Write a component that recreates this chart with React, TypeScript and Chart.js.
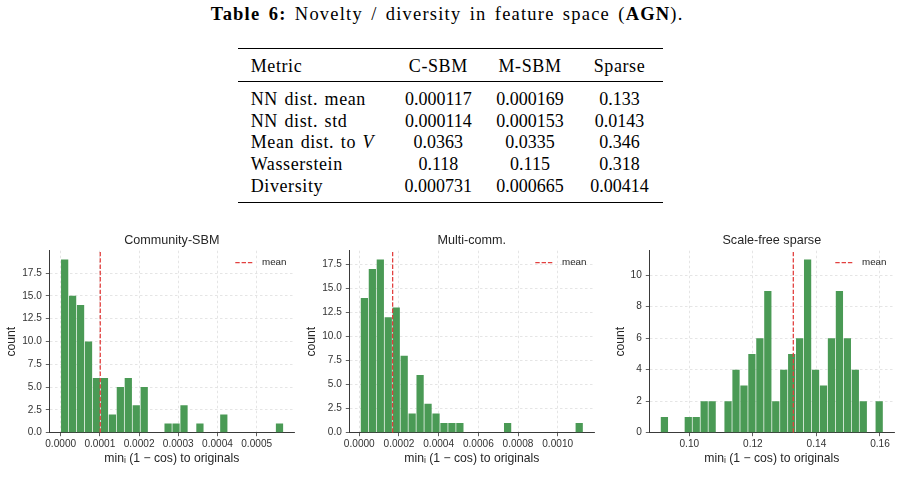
import React, { useEffect, useRef } from "react";
import { Chart, registerables } from "chart.js";

Chart.register(...registerables);
Chart.defaults.font.family = '"Liberation Sans", Arial, sans-serif';

// ---------- Table data ----------
const TABLE_TITLE_LABEL = "Table 6:";
const TABLE_TITLE_TEXT = " Novelty / diversity in feature space (";
const TABLE_TITLE_BOLD = "AGN";
const TABLE_TITLE_END = ").";
const TABLE_HEADERS = ["Metric", "C-SBM", "M-SBM", "Sparse"];
const ROW_LABELS = ["NN dist. mean", "NN dist. std", "Mean dist. to ", "Wasserstein", "Diversity"];
const ROW_LABEL_ITALIC = ["", "", "V", "", ""];
const CSBM_VALUES = ["0.000117", "0.000114", "0.0363", "0.118", "0.000731"];
const MSBM_VALUES = ["0.000169", "0.000153", "0.0335", "0.115", "0.000665"];
const SPARSE_VALUES = ["0.133", "0.0143", "0.346", "0.318", "0.00414"];

// ---------- Histogram data ----------
const X_LABEL = "minᵢ (1 − cos) to originals";
const Y_LABEL = "count";
const MEAN_LABEL = "mean";

const CSBM_TITLE = "Community-SBM";
const CSBM_BIN_START = 0.0;
const CSBM_BIN_WIDTH = 0.0000203;
const CSBM_COUNTS = [19, 15, 14, 10, 6, 6, 2, 5, 6, 3, 5, 0, 0, 1, 1, 3, 0, 1, 0, 0, 2, 0, 0, 0, 0, 0, 0, 1];
const CSBM_MEAN = 0.000101;
const CSBM_X_RANGE = [-0.000029, 0.000596];
const CSBM_Y_MAX = 19.95;
const CSBM_X_TICKS = [0, 0.0001, 0.0002, 0.0003, 0.0004, 0.0005];
const CSBM_X_TICK_LABELS = ["0.0000", "0.0001", "0.0002", "0.0003", "0.0004", "0.0005"];
const CSBM_Y_TICKS = [0, 2.5, 5, 7.5, 10, 12.5, 15, 17.5];
const CSBM_Y_TICK_LABELS = ["0.0", "2.5", "5.0", "7.5", "10.0", "12.5", "15.0", "17.5"];

const MSBM_TITLE = "Multi-comm.";
const MSBM_BIN_START = 0.0000057;
const MSBM_BIN_WIDTH = 0.0000401;
const MSBM_COUNTS = [14, 17, 18, 12, 13, 8, 2, 6, 3, 2, 1, 1, 1, 0, 0, 0, 0, 0, 1, 0, 0, 0, 0, 0, 0, 0, 0, 1];
const MSBM_MEAN = 0.000168;
const MSBM_X_RANGE = [-0.0000504, 0.0011845];
const MSBM_Y_MAX = 18.9;
const MSBM_X_TICKS = [0, 0.0002, 0.0004, 0.0006, 0.0008, 0.001];
const MSBM_X_TICK_LABELS = ["0.0000", "0.0002", "0.0004", "0.0006", "0.0008", "0.0010"];
const MSBM_Y_TICKS = [0, 2.5, 5, 7.5, 10, 12.5, 15, 17.5];
const MSBM_Y_TICK_LABELS = ["0.0", "2.5", "5.0", "7.5", "10.0", "12.5", "15.0", "17.5"];

const SPARSE_TITLE = "Scale-free sparse";
const SPARSE_BIN_START = 0.090917;
const SPARSE_BIN_WIDTH = 0.0025031;
const SPARSE_COUNTS = [1, 0, 0, 1, 1, 2, 2, 0, 2, 4, 3, 5, 6, 9, 2, 4, 5, 6, 11, 4, 3, 6, 9, 6, 4, 2, 0, 2];
const SPARSE_MEAN = 0.13273;
const SPARSE_X_RANGE = [0.087413, 0.164507];
const SPARSE_Y_MAX = 11.55;
const SPARSE_X_TICKS = [0.1, 0.12, 0.14, 0.16];
const SPARSE_X_TICK_LABELS = ["0.10", "0.12", "0.14", "0.16"];
const SPARSE_Y_TICKS = [0, 2, 4, 6, 8, 10];
const SPARSE_Y_TICK_LABELS = ["0", "2", "4", "6", "8", "10"];

// ---------- Styles ----------
const BAR_COLOR = "#4a9a55";
const MEAN_COLOR = "#e2403f";
const TEXT_COLOR = "#262626";
const TICK_TEXT = "#333333";
const SPINE_COLOR = "#3a3a3a";
const GRID_COLOR = "#dedede";
const SANS = '"Liberation Sans", Arial, sans-serif';

type HistParams = {
  title: string;
  binStart: number;
  binWidth: number;
  counts: number[];
  mean: number;
  xRange: number[];
  yMax: number;
  xTicks: number[];
  xTickLabels: string[];
  yTicks: number[];
  yTickLabels: string[];
  yTitlePad: number;
};

const HISTS: HistParams[] = [
  { title: CSBM_TITLE, binStart: CSBM_BIN_START, binWidth: CSBM_BIN_WIDTH, counts: CSBM_COUNTS, mean: CSBM_MEAN, xRange: CSBM_X_RANGE, yMax: CSBM_Y_MAX, xTicks: CSBM_X_TICKS, xTickLabels: CSBM_X_TICK_LABELS, yTicks: CSBM_Y_TICKS, yTickLabels: CSBM_Y_TICK_LABELS, yTitlePad: 4.4 },
  { title: MSBM_TITLE, binStart: MSBM_BIN_START, binWidth: MSBM_BIN_WIDTH, counts: MSBM_COUNTS, mean: MSBM_MEAN, xRange: MSBM_X_RANGE, yMax: MSBM_Y_MAX, xTicks: MSBM_X_TICKS, xTickLabels: MSBM_X_TICK_LABELS, yTicks: MSBM_Y_TICKS, yTickLabels: MSBM_Y_TICK_LABELS, yTitlePad: 4.4 },
  { title: SPARSE_TITLE, binStart: SPARSE_BIN_START, binWidth: SPARSE_BIN_WIDTH, counts: SPARSE_COUNTS, mean: SPARSE_MEAN, xRange: SPARSE_X_RANGE, yMax: SPARSE_Y_MAX, xTicks: SPARSE_X_TICKS, xTickLabels: SPARSE_X_TICK_LABELS, yTicks: SPARSE_Y_TICKS, yTickLabels: SPARSE_Y_TICK_LABELS, yTitlePad: 13.4 },
];

const meanLegendPlugin = {
  id: "meanLegend",
  afterDatasetsDraw(chart: any) {
    const { ctx, chartArea } = chart;
    const ds = chart.data.datasets[0];
    const y = chartArea.top + 12;
    ctx.save();
    ctx.strokeStyle = ds.borderColor;
    ctx.lineWidth = 1.3;
    ctx.setLineDash([4.4, 1.9]);
    ctx.beginPath();
    ctx.moveTo(chartArea.right - 59, y);
    ctx.lineTo(chartArea.right - 40.7, y);
    ctx.stroke();
    ctx.setLineDash([]);
    ctx.fillStyle = TEXT_COLOR;
    ctx.font = `9.8px ${SANS}`;
    ctx.textBaseline = "middle";
    ctx.textAlign = "left";
    ctx.fillText(ds.label, chartArea.right - 32.3, y);
    ctx.restore();
  },
};

function makeConfig(p: HistParams): any {
  const barData = p.counts.map((c, i) => ({ x: p.binStart + p.binWidth * (i + 0.5), y: c }));
  return {
    type: "bar",
    data: {
      datasets: [
        {
          type: "line",
          label: MEAN_LABEL,
          data: [
            { x: p.mean, y: 0 },
            { x: p.mean, y: p.yMax },
          ],
          borderColor: MEAN_COLOR,
          borderWidth: 1.3,
          borderDash: [4.4, 1.9],
          pointRadius: 0,
          fill: false,
          order: 0,
        },
        {
          type: "bar",
          label: Y_LABEL,
          data: barData,
          backgroundColor: BAR_COLOR,
          borderWidth: 0,
          barPercentage: 0.91,
          categoryPercentage: 1,
          order: 1,
        },
      ],
    },
    options: {
      responsive: false,
      animation: false,
      devicePixelRatio: 1,
      layout: { padding: { left: 0, right: 5.7, top: 0, bottom: 24.3 } },
      plugins: {
        legend: { display: false },
        tooltip: { enabled: false },
        title: {
          display: true,
          text: p.title,
          fullSize: false,
          color: TEXT_COLOR,
          font: { size: 12.6, weight: "normal" },
          padding: { top: 8.4, bottom: 2.2 },
        },
      },
      scales: {
        x: {
          type: "linear",
          min: p.xRange[0],
          max: p.xRange[1],
          offset: false,
          afterBuildTicks: (s: any) => {
            s.ticks = p.xTicks.map((v) => ({ value: v }));
          },
          afterFit: (s: any) => {
            s.height = 40;
          },
          ticks: {
            callback: (_v: any, i: number) => p.xTickLabels[i],
            color: TICK_TEXT,
            font: { size: 10.1 },
            padding: 1.8,
            maxRotation: 0,
            autoSkip: false,
          },
          grid: {
            offset: false,
            color: GRID_COLOR,
            lineWidth: 0.8,
            drawTicks: true,
            tickLength: 3.5,
            tickColor: SPINE_COLOR,
            tickWidth: 0.8,
          },
          border: { display: true, color: SPINE_COLOR, width: 1, dash: [2.5, 2.5] },
          title: {
            display: true,
            text: X_LABEL,
            color: TEXT_COLOR,
            font: { size: 12.2 },
            padding: { top: 0, bottom: 6.4 },
          },
        },
        y: {
          type: "linear",
          min: 0,
          max: p.yMax,
          afterBuildTicks: (s: any) => {
            s.ticks = p.yTicks.map((v) => ({ value: v }));
          },
          afterFit: (s: any) => {
            s.width = 49.3;
          },
          ticks: {
            callback: (_v: any, i: number) => p.yTickLabels[i],
            color: TICK_TEXT,
            font: { size: 10.1 },
            padding: 4,
            autoSkip: false,
          },
          grid: {
            color: GRID_COLOR,
            lineWidth: 0.8,
            drawTicks: true,
            tickLength: 3.5,
            tickColor: SPINE_COLOR,
            tickWidth: 0.8,
          },
          border: { display: true, color: SPINE_COLOR, width: 1, dash: [2.5, 2.5] },
          title: {
            display: true,
            text: Y_LABEL,
            color: TEXT_COLOR,
            font: { size: 12.2 },
            padding: { top: p.yTitlePad, bottom: 0 },
          },
        },
      },
    },
    plugins: [meanLegendPlugin],
  };
}

function Histogram({ params, left }: { params: HistParams; left: number }) {
  const ref = useRef<HTMLCanvasElement>(null);
  useEffect(() => {
    const chart = new Chart(ref.current as HTMLCanvasElement, makeConfig(params));
    return () => chart.destroy();
  }, [params]);
  return (
    <div style={{ position: "absolute", left, top: 225, width: 300, height: 272 }}>
      <canvas ref={ref} width={300} height={272} style={{ width: 300, height: 272, display: "block" }} />
    </div>
  );
}

const SERIF = '"Liberation Serif", "Times New Roman", serif';
const FONT_PX = 18;
const BASE_OFF = 15.07; // baseline offset within an 18px line box

const ROW_BASELINES = [105, 126.7, 148.4, 170.1, 191.8];
const COL_CENTERS = [438.3, 530, 619.5];

function Cell({ text, baseline, left, center, spaced, children }: any) {
  const style: any = {
    position: "absolute",
    top: baseline - BASE_OFF,
    fontFamily: SERIF,
    fontSize: FONT_PX,
    lineHeight: `${FONT_PX}px`,
    whiteSpace: "nowrap",
    color: "#000",
  };
  if (spaced) {
    style.letterSpacing = "0.6px";
    style.wordSpacing = "1.5px";
  }
  if (center !== undefined) {
    style.left = center - 70;
    style.width = 140;
    style.textAlign = "center";
  } else {
    style.left = left;
  }
  return <div style={style}>{text}{children}</div>;
}

function TableBlock() {
  const ruleStyle = (top: number, h: number): any => ({
    position: "absolute",
    left: 238.3,
    width: 425,
    top,
    height: h,
    background: "#000",
  });
  return (
    <>
      <div
        style={{
          position: "absolute",
          left: 0,
          width: 894.4,
          top: 20 - 15.5,
          textAlign: "center",
          fontFamily: SERIF,
          fontSize: 18.5,
          lineHeight: "18.5px",
          letterSpacing: "1.2px",
          wordSpacing: "2.5px",
          whiteSpace: "nowrap",
          color: "#000",
        }}
      >
        <b>{TABLE_TITLE_LABEL}</b>
        {TABLE_TITLE_TEXT}
        <b>{TABLE_TITLE_BOLD}</b>
        {TABLE_TITLE_END}
      </div>
      <div style={ruleStyle(48, 1.4)} />
      <Cell text={TABLE_HEADERS[0]} baseline={71.7} left={250.7} spaced />
      <Cell text={TABLE_HEADERS[1]} baseline={71.7} center={COL_CENTERS[0]} spaced />
      <Cell text={TABLE_HEADERS[2]} baseline={71.7} center={COL_CENTERS[1]} spaced />
      <Cell text={TABLE_HEADERS[3]} baseline={71.7} center={COL_CENTERS[2]} spaced />
      <div style={ruleStyle(81.3, 0.8)} />
      {ROW_LABELS.map((lbl, i) => (
        <React.Fragment key={i}>
          <Cell text={lbl} baseline={ROW_BASELINES[i]} left={250.7} spaced>
            {ROW_LABEL_ITALIC[i] ? <i>{ROW_LABEL_ITALIC[i]}</i> : null}
          </Cell>
          <Cell text={CSBM_VALUES[i]} baseline={ROW_BASELINES[i]} center={COL_CENTERS[0]} />
          <Cell text={MSBM_VALUES[i]} baseline={ROW_BASELINES[i]} center={COL_CENTERS[1]} />
          <Cell text={SPARSE_VALUES[i]} baseline={ROW_BASELINES[i]} center={COL_CENTERS[2]} />
        </React.Fragment>
      ))}
      <div style={ruleStyle(201.6, 1.4)} />
    </>
  );
}

export default function App() {
  return (
    <div style={{ position: "absolute", left: 0, top: 0, width: 901, height: 497, background: "#fff", overflow: "hidden" }}>
      <TableBlock />
      <Histogram params={HISTS[0]} left={0} />
      <Histogram params={HISTS[1]} left={300} />
      <Histogram params={HISTS[2]} left={600} />
    </div>
  );
}
